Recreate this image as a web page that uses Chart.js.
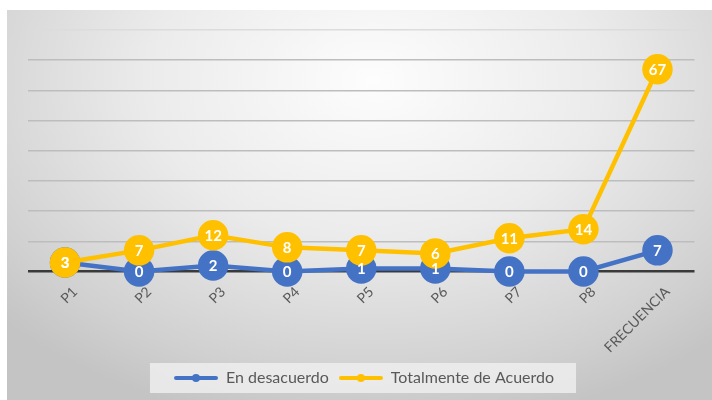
<!DOCTYPE html>
<html>
<head>
<meta charset="utf-8">
<script src="https://cdn.jsdelivr.net/npm/chart.js@4"></script>
<style>
  html, body { margin: 0; padding: 0; background: #fff; }
  #wrap { position: relative; width: 712px; height: 400px; }
  #panel {
    position: absolute; left: 7px; top: 10px; width: 705px; height: 390px;
    background: radial-gradient(ellipse 72% 90% at 52% 18%, #fdfdfd 0%, #ebebeb 45%, #d0d0d0 85%, #c4c4c4 100%);
  }
  #chart { position: absolute; left: 0; top: 0; }
</style>
</head>
<body>
<div id="wrap">
  <div id="panel"></div>
  <canvas id="chart" width="712" height="400"></canvas>
</div>
<script>
// datos
const categorias = ['P1', 'P2', 'P3', 'P4', 'P5', 'P6', 'P7', 'P8', 'FRECUENCIA'];
const enDesacuerdo = [3, 0, 2, 0, 1, 1, 0, 0, 7];
const totalmenteDeAcuerdo = [3, 7, 12, 8, 7, 6, 11, 14, 67];

const AZUL = '#4472C4';
const AMARILLO = '#FFC000';
const FUENTE = 'Lato, "Open Sans", sans-serif';

// icono de leyenda: línea con punto
function iconoLeyenda(color) {
    const c = document.createElement('canvas');
    c.width = 44; c.height = 10;
    const ctx = c.getContext('2d');
    ctx.strokeStyle = color;
    ctx.lineWidth = 4;
    ctx.lineCap = 'round';
    ctx.beginPath();
    ctx.moveTo(2, 5); ctx.lineTo(42, 5);
    ctx.stroke();
    ctx.fillStyle = color;
    ctx.beginPath();
    ctx.arc(22, 5, 4, 0, Math.PI * 2);
    ctx.fill();
    return c;
}

// etiquetas dentro de los círculos
const etiquetasPlugin = {
    id: 'etiquetas',
    afterDatasetsDraw(chart) {
        const ctx = chart.ctx;
        ctx.save();
        ctx.font = 'bold 15px ' + FUENTE;
        ctx.fillStyle = '#fff';
        ctx.textAlign = 'center';
        ctx.textBaseline = 'middle';
        chart.data.datasets.forEach((ds, i) => {
            const meta = chart.getDatasetMeta(i);
            meta.data.forEach((pt, j) => {
                ctx.fillText(String(ds.data[j]), pt.x, pt.y + 1);
            });
        });
        ctx.restore();
    }
};

// fondo claro detrás de la leyenda
const fondoLeyenda = {
    id: 'fondoLeyenda',
    beforeDraw(chart) {
        const boxes = chart.legend && chart.legend.legendHitBoxes;
        if (!boxes || !boxes.length) return;
        const left = Math.min(...boxes.map(b => b.left)) - 24;
        const right = Math.max(...boxes.map(b => b.left + b.width)) + 22;
        const top = Math.min(...boxes.map(b => b.top)) - 7;
        const bottom = Math.max(...boxes.map(b => b.top + b.height)) + 7;
        const ctx = chart.ctx;
        ctx.save();
        ctx.fillStyle = 'rgba(240,240,240,0.8)';
        ctx.fillRect(left, top, right - left, bottom - top);
        ctx.restore();
    }
};

const ctx = document.getElementById('chart').getContext('2d');
new Chart(ctx, {
    type: 'line',
    data: {
        labels: categorias,
        datasets: [{
            label: 'En desacuerdo',
            data: enDesacuerdo,
            borderColor: AZUL,
            backgroundColor: AZUL,
            pointBackgroundColor: AZUL,
            pointBorderColor: AZUL,
            borderWidth: 4.5,
            pointRadius: 13,
            tension: 0,
            clip: false,
            order: 1
        }, {
            label: 'Totalmente de Acuerdo',
            data: totalmenteDeAcuerdo,
            borderColor: AMARILLO,
            backgroundColor: AMARILLO,
            pointBackgroundColor: AMARILLO,
            pointBorderColor: AMARILLO,
            borderWidth: 4.5,
            pointRadius: 13,
            tension: 0,
            clip: false,
            order: 0
        }]
    },
    options: {
        responsive: false,
        animation: false,
        layout: { padding: { left: 28, right: 12, top: 30, bottom: 4 } },
        scales: {
            x: {
                offset: true,
                grid: { display: false },
                border: { display: false },
                ticks: {
                    minRotation: 45, maxRotation: 45,
                    color: '#595959',
                    font: { family: FUENTE, size: 14 },
                    padding: 4,
                    labelOffset: 10
                }
            },
            y: {
                min: 0, max: 80,
                ticks: { display: false, stepSize: 10 },
                border: { display: false },
                grid: {
                    drawTicks: false,
                    color: c => c.tick.value === 0 ? '#3a3a3a' : (c.tick.value === 80 ? '#dcdcdc' : '#bdbdbd'),
                    lineWidth: c => c.tick.value === 0 ? 2.5 : 1.5
                }
            }
        },
        plugins: {
            tooltip: { enabled: false },
            legend: {
                position: 'bottom',
                labels: {
                    usePointStyle: true,
                    pointStyleWidth: 44,
                    color: '#595959',
                    font: { family: FUENTE, size: 16 },
                    padding: 10,
                    generateLabels(chart) {
                        return chart.data.datasets.map((ds, i) => ({
                            text: ds.label,
                            fillStyle: ds.borderColor,
                            strokeStyle: ds.borderColor,
                            fontColor: '#595959',
                            pointStyle: iconoLeyenda(ds.borderColor),
                            lineWidth: 0,
                            hidden: false,
                            datasetIndex: i
                        }));
                    }
                }
            }
        }
    },
    plugins: [etiquetasPlugin, fondoLeyenda]
});
</script>
</body>
</html>
